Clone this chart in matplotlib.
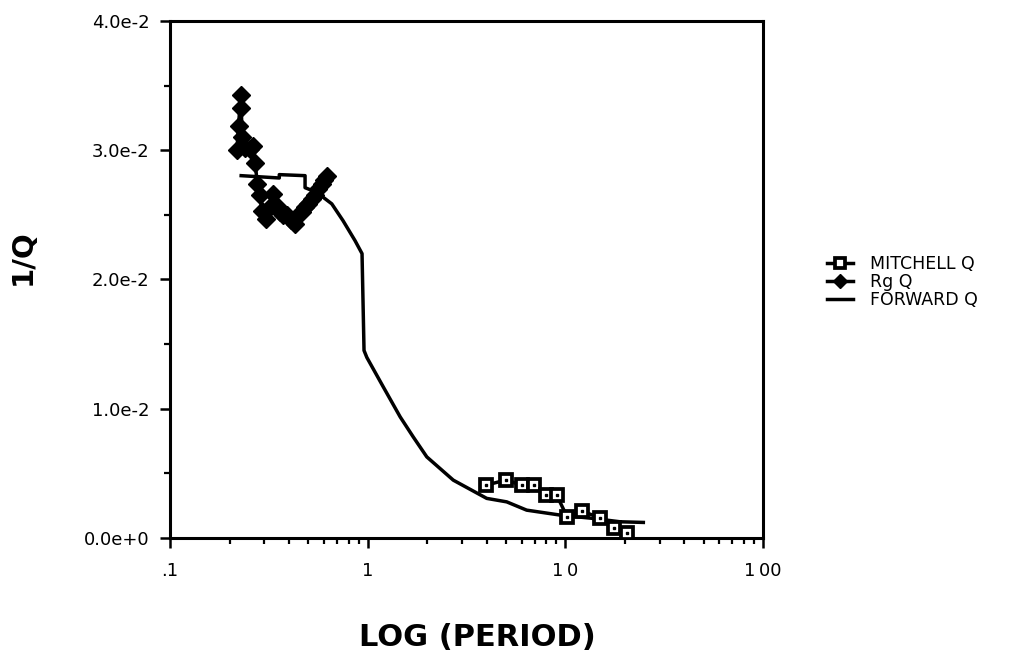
import matplotlib
matplotlib.use('Agg')
import matplotlib.pyplot as plt
from matplotlib.ticker import FixedLocator, LogLocator, NullFormatter

# Mitchell Q estimates
mitchell_period = [3.95, 4.99, 6.05, 6.94, 7.95, 9.04, 10.2, 12.1, 15.0, 17.6, 20.4]
mitchell_invq = [0.00409, 0.00448, 0.00409, 0.00409, 0.00332, 0.00332,
                 0.00165, 0.00208, 0.00157, 0.00080, 0.00041]

# Rg Q estimates
rg_period = [0.218, 0.222, 0.228, 0.229, 0.232, 0.240, 0.255, 0.263, 0.270, 0.276,
             0.285, 0.292, 0.305, 0.318, 0.333, 0.347, 0.360, 0.374, 0.390, 0.410,
             0.429, 0.445, 0.463, 0.480, 0.501, 0.520, 0.541, 0.562, 0.585, 0.603, 0.620]
rg_invq = [0.0300, 0.0319, 0.0343, 0.0333, 0.0310, 0.0302, 0.0301, 0.0303, 0.0290, 0.0274,
           0.0265, 0.0253, 0.0247, 0.0255, 0.0266, 0.0257, 0.0252, 0.0250, 0.0250, 0.0246,
           0.0243, 0.0250, 0.0252, 0.0256, 0.0258, 0.0262, 0.0265, 0.0270, 0.0274, 0.0277, 0.0280]

# forward model
fwd_period = [0.229, 0.357, 0.357, 0.482, 0.482, 0.552, 0.658, 0.750, 0.863, 0.936,
              0.958, 0.990, 1.20, 1.46, 1.70, 1.99, 2.71, 4.00, 5.05, 6.37,
              9.39, 13.8, 18.9, 24.8]
fwd_invq = [0.02803, 0.02785, 0.02811, 0.02803, 0.02710, 0.02674, 0.02585, 0.02455, 0.02300, 0.02200,
            0.01451, 0.01397, 0.01168, 0.00937, 0.00782, 0.00628, 0.00448, 0.00307, 0.00280, 0.00216,
            0.00178, 0.00152, 0.00126, 0.00121]

yticks = [0.0, 0.01, 0.02, 0.03, 0.04]
ytick_labels = ['0.0e+0', '1.0e-2', '2.0e-2', '3.0e-2', '4.0e-2']
xticks = [0.1, 1, 10, 100]
xtick_labels = ['.1', '1', '1\u20090', '1\u200900']

plt.rcParams['font.family'] = ['DejaVu Sans']

fig = plt.figure(figsize=(10.14, 6.53), dpi=100)
ax = fig.add_axes([0.1677, 0.176, 0.5848, 0.792])

ax.plot(mitchell_period, mitchell_invq, color='black', lw=2.5, marker='s', ms=9,
        mfc='white', mec='black', mew=2.7, label='MITCHELL Q', zorder=3)
ax.plot(mitchell_period, mitchell_invq, ls='none', marker='s', ms=1.6, color='black', zorder=4)
ax.plot(rg_period, rg_invq, color='black', lw=2.5, marker='D', ms=9.5, label='Rg Q', zorder=3)
ax.plot(fwd_period, fwd_invq, color='black', lw=2.5, label='FORWARD Q', zorder=2)

ax.set_xscale('log')
ax.set_xlim(0.1, 100)
ax.set_ylim(0, 0.04)

ax.xaxis.set_major_locator(FixedLocator(xticks))
ax.set_xticklabels(xtick_labels)
ax.xaxis.set_minor_locator(LogLocator(base=10, subs=range(2, 10)))
ax.xaxis.set_minor_formatter(NullFormatter())
ax.yaxis.set_major_locator(FixedLocator(yticks))
ax.set_yticklabels(ytick_labels)
ax.yaxis.set_minor_locator(FixedLocator([0.005, 0.015, 0.025, 0.035]))

for s in ax.spines.values():
    s.set_linewidth(2.2)
ax.tick_params(which='major', direction='out', length=7, width=1.8, labelsize=13, pad=8)
ax.tick_params(axis='x', which='major', pad=10)
ax.tick_params(which='minor', direction='out', length=4, width=1.6)

ax.set_xlabel('LOG (PERIOD)', fontsize=22, fontweight='bold')
ax.xaxis.set_label_coords(0.519, -0.164)
ax.set_ylabel('1/Q', fontsize=21, fontweight='bold')
ax.yaxis.set_label_coords(-0.224, 0.5435)

fig.legend(loc='upper left', bbox_to_anchor=(0.8, 0.633), frameon=False, fontsize=12.5,
           handlelength=1.5, handletextpad=1.0, labelspacing=0.0, markerscale=0.75)

fig.savefig('out.png', dpi=100, facecolor='white')
